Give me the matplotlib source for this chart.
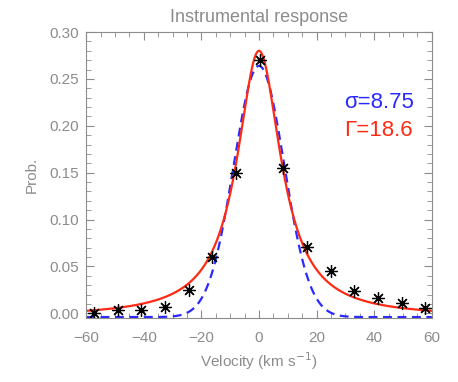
import numpy as np
import matplotlib.pyplot as plt
from matplotlib.ticker import MultipleLocator

# binned instrumental response (asterisks)
velocity = [-57.2, -49.0, -40.8, -32.6, -24.4, -16.2, -7.9, 0.3,
            8.5, 16.7, 24.9, 33.1, 41.3, 49.5, 57.6]
prob = [0.000, 0.0035, 0.0035, 0.0068, 0.0250, 0.0600, 0.1500, 0.2700,
        0.1550, 0.0710, 0.0455, 0.0240, 0.0165, 0.0115, 0.0058]

# fit parameters shown on the chart, amplitudes
sigma = 8.75
gamma = 18.6
gauss_peak = 0.268
lorentz_peak = 0.284
baseline = -0.004

grey = '#8c8c8c'
red = '#ff2a14'
blue = '#2a2aff'
plt.rcParams['font.family'] = ['Liberation Sans', 'DejaVu Sans']

v = np.linspace(-60, 60, 600)
gauss = baseline + gauss_peak * np.exp(-v**2 / (2 * sigma**2))
lorentz = baseline + lorentz_peak / (1 + (2 * v / gamma)**2)

fig = plt.figure(figsize=(4.58, 3.82), dpi=100)
ax = fig.add_axes([0.188, 0.1675, 0.755, 0.7485])

ax.plot(v, gauss, color=blue, lw=1.6, ls=(0, (4, 2.5)))
ax.plot(v, lorentz, color=red, lw=1.6)
ax.plot(velocity, prob, ls='none', marker=(8, 2, 0), ms=9, mew=0.9,
        color='black')

ax.set_xlim(-60, 60)
ax.set_ylim(-0.005, 0.30)
ax.xaxis.set_major_locator(MultipleLocator(20))
ax.xaxis.set_minor_locator(MultipleLocator(5))
ax.yaxis.set_major_locator(MultipleLocator(0.05))
ax.yaxis.set_minor_locator(MultipleLocator(0.01))
ax.yaxis.set_major_formatter(plt.FormatStrFormatter('%.2f'))

for s in ax.spines.values():
    s.set_color(grey)
ax.tick_params(which='both', direction='in', top=True, right=True,
               colors=grey, labelcolor=grey, labelsize=11)
ax.tick_params(which='major', length=6)
ax.tick_params(which='minor', length=3.5)
ax.tick_params(axis='x', pad=9)
ax.tick_params(axis='y', pad=5)

ax.set_title('Instrumental response', color=grey, fontsize=13, pad=7)
ax.set_xlabel(r'Velocity (km s$^{-1}$)', color=grey, fontsize=11, labelpad=4)
ax.set_ylabel('Prob.', color=grey, fontsize=11, labelpad=8)

ax.text(0.745, 0.735, '\u03c3=8.75', transform=ax.transAxes, color=blue,
        fontsize=16)
ax.text(0.745, 0.635, '\u0393=18.6', transform=ax.transAxes, color=red,
        fontsize=16)

fig.savefig('out.png', dpi=100)
